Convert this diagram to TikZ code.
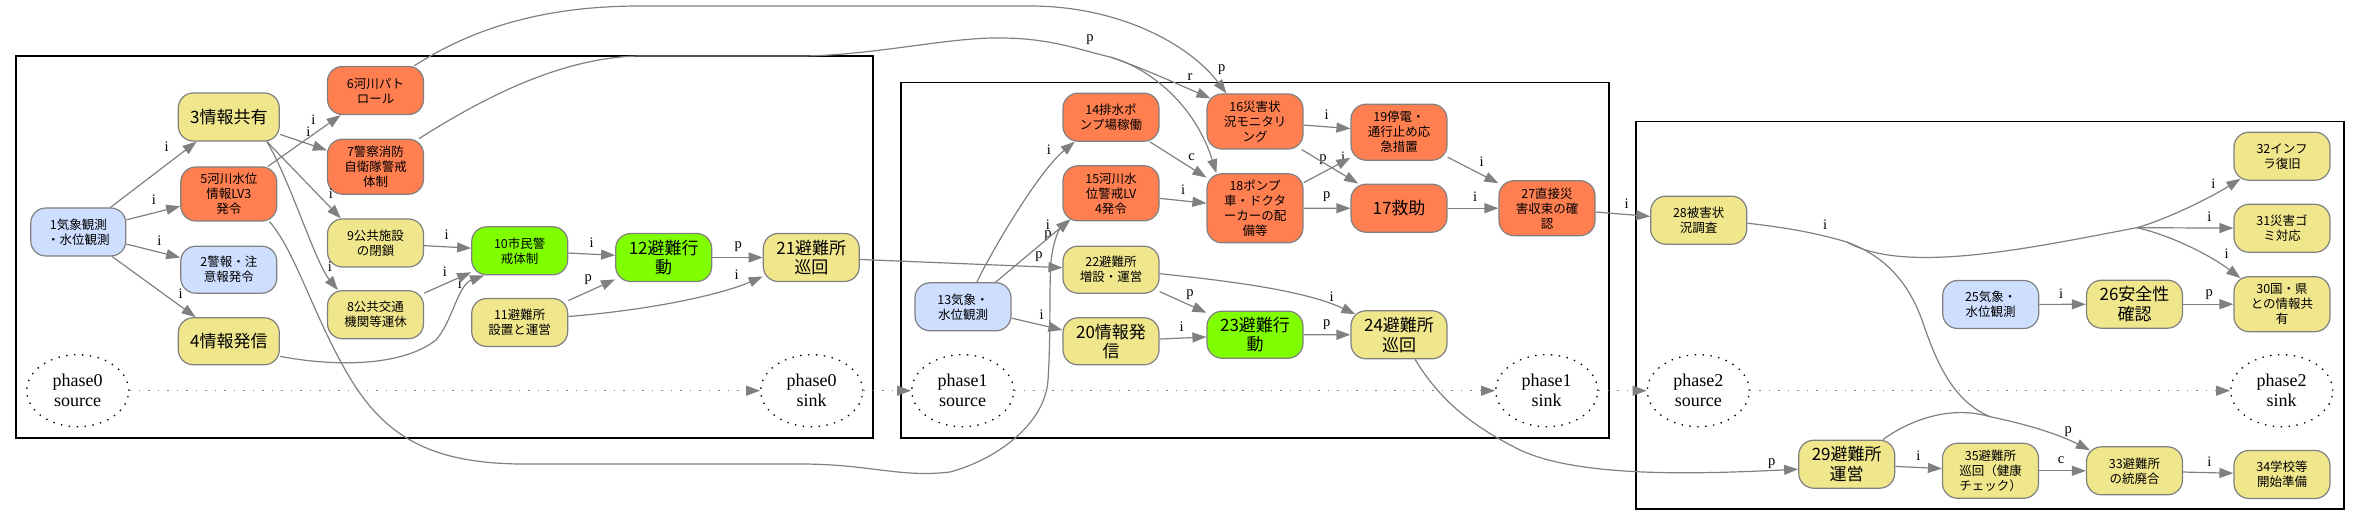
\documentclass[tikz,border=0pt]{standalone}
\usepackage{fontspec}
\setmainfont{Liberation Serif}
\newfontfamily\jp{Noto Sans CJK JP}
\usetikzlibrary{arrows.meta,shapes.geometric,calc}
\definecolor{nblue}{RGB}{206,222,255}
\definecolor{norange}{RGB}{255,127,80}
\definecolor{nyellow}{RGB}{240,230,140}
\definecolor{ngreen}{RGB}{127,255,0}
\definecolor{egray}{RGB}{128,128,128}
\begin{document}
\begin{tikzpicture}[x=1pt,y=-1pt,
  bx/.style={draw=egray,line width=1.2pt,rounded corners=15pt,minimum width=96pt,inner sep=0pt,align=center,font=\jp\fontsize{12.5}{15}\selectfont},
  boxb/.style={bx,fill=nblue},
  boxo/.style={bx,fill=norange},
  boxy/.style={bx,fill=nyellow},
  boxg/.style={bx,fill=ngreen},
  bg/.style={font=\jp\fontsize{17}{19.5}\selectfont},
  phase/.style={ellipse,draw=black,line width=1.3pt,dash pattern=on 1.4pt off 6.5pt,minimum width=102pt,minimum height=72pt,inner sep=0pt,align=center,font=\fontsize{18}{20}\selectfont},
  clus/.style={draw=black,line width=1.6pt},
  conn/.style={draw=egray,line width=1.2pt,-{Triangle[length=14pt,width=10pt]}},
  plainconn/.style={draw=egray,line width=1.2pt},
  pconn/.style={draw=egray,line width=1.3pt,dash pattern=on 1.5pt off 8pt,-{Triangle[length=14pt,width=10pt]}},
  elab/.style={inner sep=0pt,font=\fontsize{14.5}{15}\selectfont}]
\useasboundingbox (0,0) rectangle (2361,526);
% clusters
\draw[clus] (15.7,56) rectangle (873,437.7);
\draw[clus] (900.7,82.5) rectangle (1609,437.7);
\draw[clus] (1635.7,121.7) rectangle (2344,509);
% nodes cluster 0
\node[boxb,minimum width=95pt,minimum height=48pt] (n1) at (78.3,232) {1気象観測\\・水位観測};
\node[boxb,minimum height=47pt] (n2) at (228.8,269.7) {2警報・注\\意報発令};
\node[boxy,bg,minimum width=101pt,minimum height=48pt] (n3) at (228.8,117) {3情報共有};
\node[boxy,bg,minimum width=101pt,minimum height=47pt] (n4) at (228.8,341.3) {4情報発信};
\node[boxo,minimum height=54pt] (n5) at (228.8,194) {5河川水位\\情報LV3\\発令};
\node[boxo,minimum height=48pt] (n6) at (375.5,90.5) {6河川パト\\ロール};
\node[boxo,minimum height=55pt] (n7) at (375.5,166.7) {7警察消防\\自衛隊警戒\\体制};
\node[boxy,minimum height=48pt] (n8) at (375.5,314.7) {8公共交通\\機関等運休};
\node[boxy,minimum height=48pt] (n9) at (375.5,243) {9公共施設\\の閉鎖};
\node[boxg,minimum height=48pt] (n10) at (519.7,250.8) {10市民警\\戒体制};
\node[boxy,minimum height=48pt] (n11) at (519.7,322.5) {11避難所\\設置と運営};
\node[boxg,bg,minimum height=48pt] (n12) at (663.7,257.5) {12避難行\\動};
\node[boxy,bg,minimum height=48pt] (n21) at (811.3,257.5) {21避難所\\巡回};
% nodes cluster 1
\node[boxb,minimum height=48pt] (n13) at (963,306.8) {13気象・\\水位観測};
\node[boxo,minimum height=48pt] (n14) at (1111,117.2) {14排水ポ\\ンプ場稼働};
\node[boxo,minimum height=55pt] (n15) at (1111,193.3) {15河川水\\位警戒LV\\4発令};
\node[boxy,minimum height=47pt] (n22) at (1111,269.7) {22避難所\\増設・運営};
\node[boxy,bg,minimum height=47pt] (n20) at (1111,341.3) {20情報発\\信};
\node[boxo,minimum height=55pt] (n16) at (1255,121.5) {16災害状\\況モニタリ\\ング};
\node[boxo,minimum height=69pt] (n18) at (1255,208.3) {18ポンプ\\車・ドクタ\\ーカーの配\\備等};
\node[boxg,bg,minimum height=47pt] (n23) at (1255,334.7) {23避難行\\動};
\node[boxo,minimum height=56pt] (n19) at (1399,132.2) {19停電・\\通行止め応\\急措置};
\node[boxo,bg,minimum height=48pt] (n17) at (1399,208.2) {17救助};
\node[boxy,bg,minimum height=48pt] (n24) at (1399,334.8) {24避難所\\巡回};
\node[boxo,minimum height=55pt] (n27) at (1547,208.2) {27直接災\\害収束の確\\認};
% nodes cluster 2
\node[boxy,minimum height=48pt] (n28) at (1698.7,220.2) {28被害状\\況調査};
\node[boxb,minimum height=48pt] (n25) at (1990.7,304.5) {25気象・\\水位観測};
\node[boxy,bg,minimum height=48pt] (n26) at (2134.5,304.2) {26安全性\\確認};
\node[boxy,bg,minimum height=48pt] (n29) at (1846.7,464.2) {29避難所\\運営};
\node[boxy,minimum height=55pt] (n35) at (1990.5,470.8) {35避難所\\巡回（健康\\チェック）};
\node[boxy,minimum height=48pt] (n33) at (2134.5,470.8) {33避難所\\の統廃合};
\node[boxy,minimum height=48pt] (n34) at (2282,474.5) {34学校等\\開始準備};
\node[boxy,minimum height=48pt] (n32) at (2282,156.2) {32インフ\\ラ復旧};
\node[boxy,minimum height=48pt] (n31) at (2282,228.3) {31災害ゴ\\ミ対応};
\node[boxy,minimum height=55pt] (n30) at (2282,304.2) {30国・県\\との情報共\\有};
% phase nodes
\node[phase] (p0s) at (77.7,390.7) {phase0\\source};
\node[phase] (p0k) at (811.7,390.7) {phase0\\sink};
\node[phase] (p1s) at (962.7,390.7) {phase1\\source};
\node[phase] (p1k) at (1546.7,390.7) {phase1\\sink};
\node[phase] (p2s) at (1698.3,390.7) {phase2\\source};
\node[phase] (p2k) at (2281.7,390.7) {phase2\\sink};
% junctions
\coordinate (j1) at (1110,57);
\coordinate (j2) at (1846.7,242);
\coordinate (j3) at (2136.7,227.7);
\coordinate (j4) at (1990,416.7);
% labels
\node[elab] (l1) at (166.7,146.7) {i};
\node[elab] (l2) at (154,200) {i};
\node[elab] (l3) at (159.3,240.7) {i};
\node[elab] (l4) at (180.7,293.3) {i};
\node[elab] (l5) at (308.3,131.7) {i};
\node[elab] (l6) at (313.3,120) {i};
\node[elab] (l7) at (331,193.3) {i};
\node[elab] (l8) at (330,266.7) {i};
\node[elab] (l9) at (446.7,235) {i};
\node[elab] (l10) at (445,271.7) {i};
\node[elab] (l11) at (460,283.3) {i};
\node[elab] (l12) at (591.7,242.7) {i};
\node[elab] (l13) at (588.3,280) {p};
\node[elab] (l14) at (738.3,246.7) {p};
\node[elab] (l15) at (736.7,275) {i};
\node[elab] (l16) at (1221.7,70) {p};
\node[elab] (l17) at (1090,40) {p};
\node[elab] (l18) at (1190,77) {r};
\node[elab] (l19) at (1049,150) {i};
\node[elab] (l20) at (1048,225) {i};
\node[elab] (l21) at (1048,236) {p};
\node[elab] (l22) at (1039,257) {p};
\node[elab] (l23) at (1041.7,315) {i};
\node[elab] (l24) at (1191.7,156.7) {c};
\node[elab] (l25) at (1183,190) {i};
\node[elab] (l26) at (1190,295) {p};
\node[elab] (l27) at (1181.7,326.7) {i};
\node[elab] (l28) at (1331.7,296.7) {i};
\node[elab] (l29) at (1326.7,325) {p};
\node[elab] (l30) at (1326.7,115) {i};
\node[elab] (l31) at (1323,160) {p};
\node[elab] (l32) at (1343,157) {i};
\node[elab] (l33) at (1326.7,196.7) {p};
\node[elab] (l34) at (1481.7,161.7) {i};
\node[elab] (l35) at (1475,196.7) {i};
\node[elab] (l36) at (1626.7,203.3) {i};
\node[elab] (l37) at (1771.7,463.3) {p};
\node[elab] (l38) at (1825,225) {i};
\node[elab] (l39) at (2213.3,183.3) {i};
\node[elab] (l40) at (2209.3,216.7) {i};
\node[elab] (l41) at (2226.7,253.3) {i};
\node[elab] (l42) at (2068.3,431.7) {p};
\node[elab] (l43) at (2061,293.3) {i};
\node[elab] (l44) at (2209.3,295) {p};
\node[elab] (l45) at (1918.3,456) {i};
\node[elab] (l46) at (2061,460) {c};
\node[elab] (l47) at (2209.3,461.7) {i};
% edges cluster 0
\draw[conn] (n1) -- (n3);
\draw[conn] (n1) -- (n5);
\draw[conn] (n1) -- (n2);
\draw[conn] (n1) -- (n4);
\draw[conn] (n3) -- (n7);
\draw[conn] (n5) -- (n6);
\draw[conn] ($(n3.south east)+(-13,0)$) -- ($(n9.north west)+(14,0)$);
\draw[conn] ($(n3.south east)+(-13,0)$) .. controls (290,180) and (315,262) .. ($(n8.north west)+(11,0)$);
\draw[conn] (n9) -- (n10);
\draw[conn] (n8) -- (n10);
\draw[conn] ($(n4.east)+(0,15)$) .. controls (330,366) and (400,368) .. (436,340) .. controls (452,322) and (458,285) .. ($(n10.south west)+(13,0)$);
\draw[conn] (n10) -- (n12);
\draw[conn] (n11) -- (n12);
\draw[conn] (n12) -- (n21);
\draw[conn] ($(n11.east)+(0,-6)$) .. controls (650,310) and (720,295) .. ($(n21.west)+(0,19)$);
% long edges
\draw[conn] ($(n6.north east)+(-10,0)$) .. controls (470,30) and (540,6) .. (640,6) -- (1030,6) .. controls (1120,6) and (1190,45) .. ($(n16.north west)+(20,0)$);
\draw[plainconn] ($(n7.north east)+(-5,0)$) .. controls (480,100) and (560,57) .. (640,56) -- (800,56) .. controls (870,56) and (950,37) .. (1000,38) .. controls (1050,38) and (1080,50) .. (j1);
\draw[conn] (j1) .. controls (1140,67) and (1180,85) .. ($(n16.north west)+(4,5)$);
\draw[conn] (j1) .. controls (1150,68) and (1195,105) .. ($(n18.north west)+(10,0)$);
\draw[conn] ($(n5.south east)+(-8,0)$) .. controls (295,250) and (315,320) .. (350,378) .. controls (385,436) and (430,463) .. (520,464) -- (800,464) .. controls (870,464) and (900,478) .. (950,472) .. controls (995,460) and (1045,425) .. (1048,380) .. controls (1051,335) and (1049,290) .. (1051,262) .. controls (1053,240) and (1060,228) .. ($(n15.south west)+(8,-2)$);
\draw[conn] (n21) -- (n22);
% edges cluster 1
\draw[conn] ($(n13.north)+(13.7,0)$) .. controls (995,245) and (1040,170) .. ($(n14.south west)+(12.3,0)$);
\draw[conn] ($(n13.north east)+(-16,0)$) -- ($(n15.south west)+(8,-2)$);
\draw[conn] (n13) -- (n20);
\draw[conn] (n14) -- (n18);
\draw[conn] (n15) -- (n18);
\draw[conn] (n22) -- (n23);
\draw[conn] (n20) -- (n23);
\draw[conn] ($(n22.east)+(0,4)$) .. controls (1250,283) and (1310,293) .. ($(n24.north west)+(5,4)$);
\draw[conn] (n23) -- (n24);
\draw[conn] (n16) -- (n19);
\draw[conn] (n16) -- (n17);
\draw[conn] (n18) -- (n19);
\draw[conn] (n18) -- (n17);
\draw[conn] (n19) -- (n27);
\draw[conn] (n17) -- (n27);
\draw[conn] (n27) -- (n28);
\draw[conn] ($(n24.south)+(16,0)$) .. controls (1440,400) and (1470,425) .. (1520,450) .. controls (1580,478) and (1700,474) .. ($(n29.west)+(0,5)$);
% edges cluster 2
\draw[plainconn] ($(n28.east)+(0,3)$) .. controls (1790,228) and (1820,234) .. (j2);
\draw[plainconn] (j2) .. controls (1905,275) and (2030,248) .. (j3);
\draw[conn] (j3) .. controls (2165,220) and (2210,198) .. ($(n32.south west)+(7,-2)$);
\draw[conn] (j3) -- (n31);
\draw[conn] (j3) .. controls (2170,235) and (2210,255) .. ($(n30.north west)+(7,2)$);
\draw[plainconn] (j2) .. controls (1885,256) and (1908,282) .. (1922,320) .. controls (1934,355) and (1950,400) .. (j4);
\draw[plainconn] ($(n29.north east)+(-12.5,0)$) .. controls (1910,420) and (1950,405) .. (j4);
\draw[conn] (j4) .. controls (2030,425) and (2060,435) .. ($(n33.north west)+(4,4)$);
\draw[conn] (n25) -- (n26);
\draw[conn] (n26) -- (n30);
\draw[conn] (n29) -- (n35);
\draw[conn] (n35) -- (n33);
\draw[conn] (n33) -- (n34);
% phase edges
\draw[pconn] (p0s) -- (p0k);
\draw[pconn] (p0k) -- (p1s);
\draw[pconn] (p1s) -- (p1k);
\draw[pconn] (p1k) -- (p2s);
\draw[pconn] (p2s) -- (p2k);
\end{tikzpicture}
\end{document}
